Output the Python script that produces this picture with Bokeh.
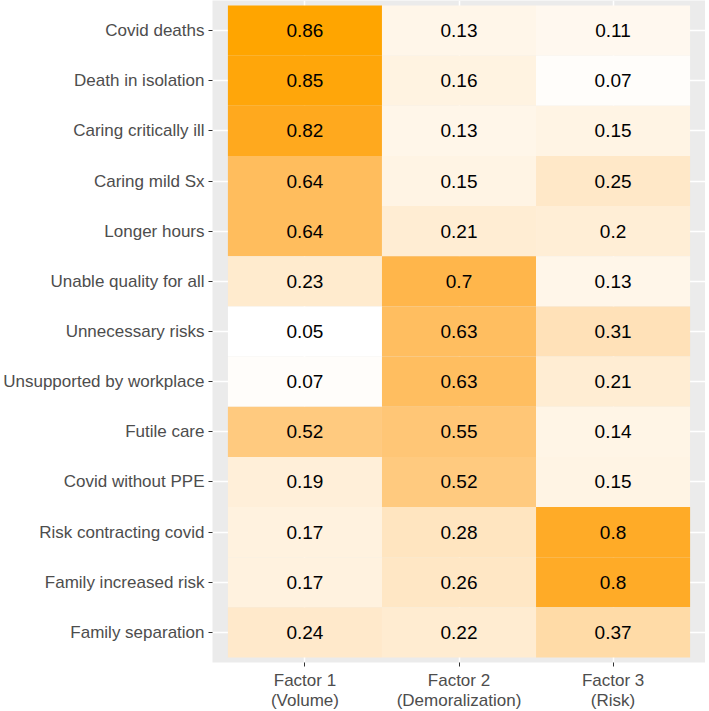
import numpy as np
from bokeh.plotting import figure
from bokeh.models import ColumnDataSource, FixedTicker, LinearColorMapper
from bokeh.transform import transform
from bokeh.core.properties import value
from bokeh.embed import file_html
from bokeh.resources import INLINE

items = ["Covid deaths", "Death in isolation", "Caring critically ill", "Caring mild Sx",
         "Longer hours", "Unable quality for all", "Unnecessary risks",
         "Unsupported by workplace", "Futile care", "Covid without PPE",
         "Risk contracting covid", "Family increased risk", "Family separation"]
factors = ["Factor 1\n(Volume)", "Factor 2\n(Demoralization)", "Factor 3\n(Risk)"]
factor1 = [0.86, 0.85, 0.82, 0.64, 0.64, 0.23, 0.05, 0.07, 0.52, 0.19, 0.17, 0.17, 0.24]
factor2 = [0.13, 0.16, 0.13, 0.15, 0.21, 0.7, 0.63, 0.63, 0.55, 0.52, 0.28, 0.26, 0.22]
factor3 = [0.11, 0.07, 0.15, 0.25, 0.2, 0.13, 0.31, 0.21, 0.14, 0.15, 0.8, 0.8, 0.37]

# Lab interpolation white -> orange (like ggplot scale_fill_gradient)
def srgb_to_lin(c):
    c = c / 255.0
    return np.where(c <= 0.04045, c / 12.92, ((c + 0.055) / 1.055) ** 2.4)

def lin_to_srgb(c):
    c = np.clip(c, 0, 1)
    return np.where(c <= 0.0031308, 12.92 * c, 1.055 * c ** (1 / 2.4) - 0.055) * 255

M = np.array([[0.4124, 0.3576, 0.1805], [0.2126, 0.7152, 0.0722], [0.0193, 0.1192, 0.9505]])
Minv = np.linalg.inv(M)
WP = M @ np.ones(3)

def f(t):
    d = 6 / 29
    return np.where(t > d ** 3, np.cbrt(t), t / (3 * d * d) + 4 / 29)

def finv(t):
    d = 6 / 29
    return np.where(t > d, t ** 3, 3 * d * d * (t - 4 / 29))

def rgb_to_lab(rgb):
    xyz = M @ srgb_to_lin(np.array(rgb, float)) / WP
    fx, fy, fz = f(xyz)
    return np.array([116 * fy - 16, 500 * (fx - fy), 200 * (fy - fz)])

def lab_to_hex(lab):
    L, a, b = lab
    fy = (L + 16) / 116
    fx = fy + a / 500
    fz = fy - b / 200
    xyz = finv(np.array([fx, fy, fz])) * WP
    rgb = lin_to_srgb(Minv @ xyz)
    return "#%02x%02x%02x" % tuple(int(round(v)) for v in rgb)

lo, hi = rgb_to_lab((255, 255, 255)), rgb_to_lab((255, 165, 0))
palette = [lab_to_hex(lo + (hi - lo) * t) for t in np.linspace(0, 1, 256)]

n = len(items)
xs, ys, vals, labels = [], [], [], []
for j, col in enumerate([factor1, factor2, factor3]):
    for i, v in enumerate(col):
        xs.append(j + 1)
        ys.append(n - i)
        vals.append(v)
        labels.append(("%g" % v))
src = ColumnDataSource(dict(x=xs, y=ys, v=vals, lab=labels))
allv = factor1 + factor2 + factor3
mapper = LinearColorMapper(palette=palette, low=min(allv), high=max(allv))

p = figure(frame_width=493, frame_height=662, output_backend="svg", toolbar_location=None,
           x_range=(0.4, 3.6), y_range=(0.4, n + 0.6),
           min_border_left=212, min_border_right=0, min_border_top=0, min_border_bottom=0)
p.background_fill_color = "#EBEBEB"
p.border_fill_color = "white"
p.outline_line_color = None

p.rect(x="x", y="y", width=1, height=1, source=src,
       fill_color=transform("v", mapper), line_color=None)
p.text(x="x", y="y", text="lab", source=src, text_align="center", text_baseline="middle",
       text_font=value("Liberation Sans"), text_font_size="19px", text_color="black")

p.xaxis.ticker = FixedTicker(ticks=[1, 2, 3])
p.xaxis.major_label_overrides = {i + 1: lab for i, lab in enumerate(factors)}
p.yaxis.ticker = FixedTicker(ticks=list(range(1, n + 1)))
p.yaxis.major_label_overrides = {n - i: lab for i, lab in enumerate(items)}

for ax in (p.xaxis[0], p.yaxis[0]):
    ax.axis_line_color = None
    ax.major_tick_out = 4
    ax.major_tick_in = 0
    ax.major_tick_line_color = "#333333"
    ax.minor_tick_line_color = None
    ax.major_label_text_font = "Liberation Sans"
    ax.major_label_text_font_size = "17px"
    ax.major_label_text_color = "#4D4D4D"
    ax.major_label_standoff = 4
p.xaxis[0].major_label_text_line_height = 1.1

p.grid.grid_line_color = "white"
p.grid.grid_line_width = 1.5
p.xgrid.ticker = FixedTicker(ticks=[1, 2, 3])
p.ygrid.ticker = FixedTicker(ticks=list(range(1, n + 1)))

open("out.html", "w").write(file_html(p, INLINE))
